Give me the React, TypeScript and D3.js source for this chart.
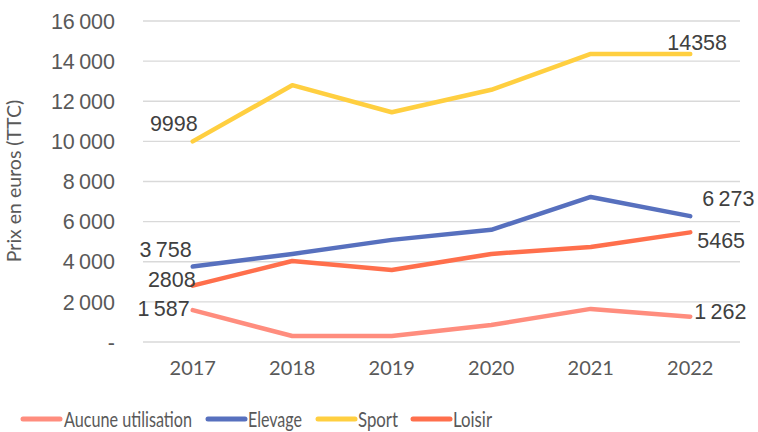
import React from "react";
import * as d3 from "d3";

const years = ["2017", "2018", "2019", "2020", "2021", "2022"];
const aucune = [1587, 300, 300, 850, 1650, 1262];
const elevage = [3758, 4390, 5090, 5590, 7230, 6273];
const sport = [9998, 12800, 11450, 12570, 14358, 14358];
const loisir = [2808, 4040, 3590, 4390, 4740, 5465];
const yTicks = [0, 2000, 4000, 6000, 8000, 10000, 12000, 14000, 16000];

const seriesNames = ["Aucune utilisation", "Elevage", "Sport", "Loisir"];
const seriesValues = [aucune, elevage, sport, loisir];
const colors = ["#FF8D7E", "#5770BE", "#FFCF40", "#FF6F4C"];

const firstLabels = ["1\u202F587", "3\u202F758", "9998", "2808"];
const lastLabels = ["1\u202F262", "6\u202F273", "14358", "5465"];

const W = 758, H = 432;
const FONT = "Lato, 'Noto Sans', sans-serif";
const NUMFONT = "'Liberation Sans', Arial, sans-serif";

export default function App() {
  const x = d3.scaleBand().domain(years).range([143, 740]);
  const y = d3.scaleLinear().domain([0, 16000]).range([342, 21]);
  const fmt = (v: number) => (v === 0 ? "-" : d3.format(",")(v).replace(/,/g, "\u202F"));
  const cx = (yr: string) => (x(yr) as number) + x.bandwidth() / 2;
  const line = d3.line<number>().x((_, i) => cx(years[i])).y((v) => y(v));

  const firstPos = [
    { dx: -3, dy: -2 },
    { dx: -1, dy: -17 },
    { dx: 5, dy: -18 },
    { dx: 3, dy: -6 },
  ];
  const lastPos = [
    { dx: 4, dy: -5 },
    { dx: 12, dy: -18 },
    { dx: -23, dy: -12 },
    { dx: 7, dy: 8 },
  ];

  const legendItems = [
    { lx: 23, tx: 64, w: 128 },
    { lx: 208, tx: 248, w: 54 },
    { lx: 318, tx: 358, w: 40 },
    { lx: 413, tx: 453, w: 39 },
  ];

  return (
    <svg width={W} height={H} style={{ position: "absolute", left: 0, top: 0, background: "#fff" }} fontFamily={FONT}>
      {yTicks.map((t) => (
        <g key={t}>
          <line x1={143} x2={740} y1={y(t)} y2={y(t)} stroke="#D9D9D9" strokeWidth={1.3} />
          <text x={115} y={y(t)} dy="0.36em" textAnchor="end" fontSize={21.5} fill="#595959" fontFamily={NUMFONT}>
            {fmt(t)}
          </text>
        </g>
      ))}
      {years.map((yr) => (
        <text key={yr} x={cx(yr)} y={375} textAnchor="middle" fontSize={20} fill="#595959">
          {yr}
        </text>
      ))}
      <text transform={`translate(21,181) rotate(-90)`} textAnchor="middle" fontSize={19.5} fill="#595959">
        Prix en euros (TTC)
      </text>
      {seriesValues.map((vals, si) => (
        <path key={si} d={line(vals) as string} fill="none" stroke={colors[si]} strokeWidth={4.5}
          strokeLinecap="round" strokeLinejoin="round" />
      ))}
      {seriesValues.map((vals, si) => (
        <g key={"l" + si} fontSize={21.5} fill="#404040" fontFamily={NUMFONT}>
          <text x={cx(years[0]) + firstPos[si].dx} y={y(vals[0]) + firstPos[si].dy} dy="0.36em" textAnchor="end">
            {firstLabels[si]}
          </text>
          <text x={cx(years[5]) + lastPos[si].dx} y={y(vals[5]) + lastPos[si].dy} dy="0.36em" textAnchor="start">
            {lastLabels[si]}
          </text>
        </g>
      ))}
      {seriesNames.map((n, i) => (
        <g key={n}>
          <line x1={legendItems[i].lx} x2={legendItems[i].lx + 37} y1={419} y2={419} stroke={colors[i]} strokeWidth={5} strokeLinecap="round" />
          <text x={legendItems[i].tx} y={419} dy="0.36em" fontSize={21} fill="#595959"
            textLength={legendItems[i].w} lengthAdjust="spacingAndGlyphs">{n}</text>
        </g>
      ))}
    </svg>
  );
}
